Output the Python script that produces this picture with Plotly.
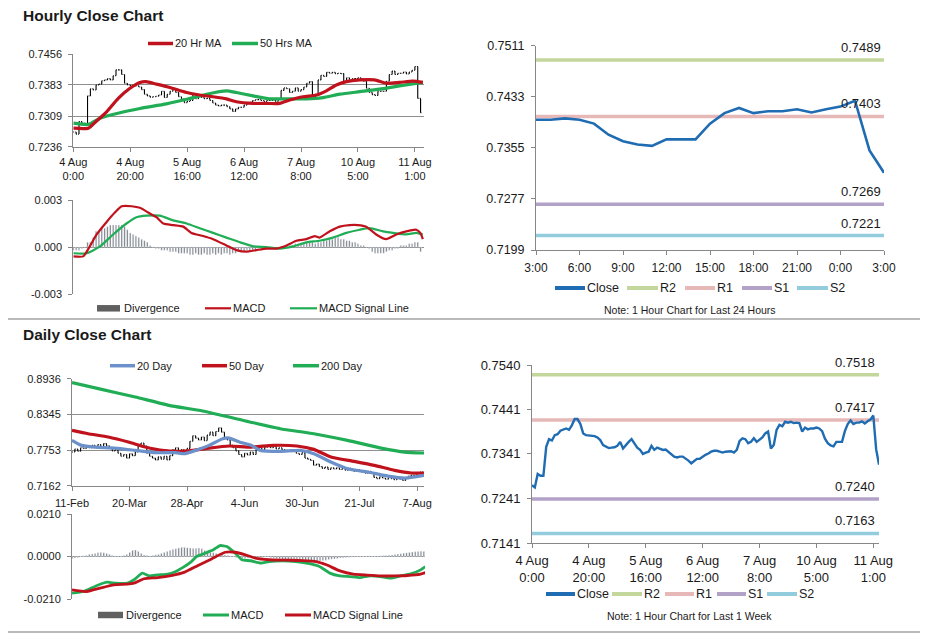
import plotly.graph_objects as go

W, H = 928, 638

# ------------------------------------------------------------------ data
hourly_tick_labels = ["4 Aug<br>0:00", "4 Aug<br>20:00", "5 Aug<br>16:00", "6 Aug<br>12:00",
                      "7 Aug<br>8:00", "10 Aug<br>5:00", "11 Aug<br>1:00"]
hourly_close = [
    0.7271, 0.7266, 0.7296, 0.7292, 0.7292, 0.7357, 0.7374, 0.7371, 0.7383, 0.7385,
    0.7393, 0.7395, 0.7398, 0.7395, 0.7405, 0.7419, 0.7419, 0.7408, 0.7387, 0.7383,
    0.7382, 0.7381, 0.7381, 0.7378, 0.7372, 0.7361, 0.7357, 0.7354, 0.7355, 0.7356,
    0.7359, 0.7368, 0.7353, 0.7361, 0.7368, 0.7374, 0.7365, 0.7355, 0.7350, 0.7341,
    0.7344, 0.7346, 0.7359, 0.7350, 0.7355, 0.7353, 0.7350, 0.7351, 0.7346, 0.7340,
    0.7335, 0.7333, 0.7335, 0.7335, 0.7331, 0.7326, 0.7320, 0.7326, 0.7330, 0.7330,
    0.7335, 0.7339, 0.7342, 0.7346, 0.7348, 0.7348, 0.7346, 0.7344, 0.7346, 0.7346,
    0.7347, 0.7344, 0.7350, 0.7370, 0.7376, 0.7374, 0.7365, 0.7368, 0.7376, 0.7368,
    0.7372, 0.7378, 0.7387, 0.7391, 0.7353, 0.7361, 0.7395, 0.7406, 0.7403, 0.7413,
    0.7411, 0.7413, 0.7410, 0.7411, 0.7410, 0.7391, 0.7400, 0.7396,
    0.7398, 0.7398, 0.7400, 0.7398, 0.7392, 0.7375, 0.7365, 0.7360, 0.7358, 0.7368,
    0.7368, 0.7368, 0.7392, 0.7408, 0.7416, 0.7408, 0.7411, 0.7411, 0.7414, 0.7409,
    0.7414, 0.7418, 0.7427, 0.7351, 0.7317]

ma20_x = [0, 5.3, 8, 11.7, 15.8, 19.9, 23.4, 25.5, 29.2, 33.9, 39.8, 44.4, 49.1, 53.8, 57.3,
          63.2, 67.8, 72.5, 76, 80.7, 85.4, 88.9, 92.4, 95.9, 100.6, 105.8, 110, 114.6, 119.3, 122.8]
ma20_y = [0.7280, 0.7280, 0.7296, 0.7319, 0.7351, 0.7375, 0.7389, 0.7391, 0.7385, 0.7377,
          0.7365, 0.7359, 0.7355, 0.7350, 0.7343, 0.7339, 0.7339, 0.7339, 0.7347, 0.7355,
          0.7359, 0.7369, 0.7383, 0.7391, 0.7395, 0.7395, 0.7387, 0.7389, 0.7392, 0.7389]
ma50_x = [0, 5.3, 9.4, 16.4, 23.4, 32.7, 39.8, 46.8, 53.8, 57.3, 63.2, 69, 74.9, 81.9, 87.7,
          93.6, 100.6, 107.6, 114.6, 122.8]
ma50_y = [0.7292, 0.7289, 0.7304, 0.7317, 0.7327, 0.7338, 0.7349, 0.7361, 0.7369, 0.7365,
          0.7357, 0.7350, 0.7350, 0.7350, 0.7353, 0.7361, 0.7367, 0.7373, 0.7381, 0.7389]

h_macd_x = [0, 3.5, 5.8, 8.2, 11.7, 14.6, 17, 20.5, 23.4, 26.3, 29.2, 31.6, 35.1, 38.6, 41.5,
            45.6, 49.1, 53.8, 57.3, 60.8, 64.3, 67.8, 71.3, 74.9, 78.4, 81.9, 84.8, 86.5, 90.1,
            93.6, 97.1, 100, 102.9, 106.4, 109.9, 113.5, 117, 120.5, 121.9, 122.8]
h_macd_y = [-0.0006, -0.0006, 0.00004, 0.0008, 0.0016, 0.0022, 0.0026, 0.0026, 0.0025, 0.0022,
            0.0019, 0.0015, 0.0014, 0.0013, 0.0009, 0.0007, 0.0005, 0.0001, -0.0002, -0.0003,
            -0.0002, -0.0001, -0.0001, 0.0001, 0.0004, 0.0005, 0.0007, 0.0006, 0.0010, 0.0013,
            0.0014, 0.0014, 0.0013, 0.0008, 0.0005, 0.0008, 0.0010, 0.0011, 0.0009, 0.0005]
h_sig_x = [0, 4.7, 9.4, 14, 18.7, 22.2, 25.7, 30.4, 35.1, 39.8, 44.4, 49.1, 53.8, 58.5, 63.2,
           67.8, 72.5, 77.2, 81.9, 86.5, 91.2, 95.9, 100.6, 104.1, 108.8, 112.3, 117, 120.5, 122.8]
h_sig_y = [-0.0004, -0.0004, 0.00004, 0.0008, 0.0015, 0.0019, 0.0020, 0.0020, 0.0017, 0.0015,
           0.0012, 0.0009, 0.0006, 0.0003, 0.00004, 0.0, -0.0001, 0.00004, 0.0003, 0.0004,
           0.0006, 0.0009, 0.0011, 0.0012, 0.0010, 0.0009, 0.0008, 0.0009, 0.0008]
h_div = [
    -0.0002, -0.0002, -0.0002, -0.0001, 0.0000,
    0.0003, 0.0003, 0.0006, 0.0010, 0.0010, 0.0012, 0.0012,
    0.0013, 0.0014, 0.0014, 0.0014, 0.0014, 0.0014, 0.0013,
    0.0011, 0.0009, 0.0008, 0.0007, 0.0006, 0.0005, 0.0004, 0.0003, 0.0001, 0.0000,
    -0.0001, -0.0001, -0.0002, -0.0002, -0.0002,
    -0.0003, -0.0003, -0.0003, -0.0004, -0.0004, -0.0004, -0.0004, -0.0005, -0.0005, -0.0004,
    -0.0005, -0.0005, -0.0004, -0.0005, -0.0005, -0.0004, -0.0005,
    -0.0004, -0.0005, -0.0004, -0.0004, -0.0005, -0.0004, -0.0004, -0.0003, -0.0003, -0.0003,
    -0.0002, -0.0002, -0.0002, -0.0002, -0.0001, -0.0001, -0.0001, -0.0001, -0.0001, 0.0000,
    0.0000, 0.0000, 0.0000, 0.0000,
    0.0001, 0.0001, 0.0001, 0.0002, 0.0002, 0.0002,
    0.0002, 0.0003, 0.0003, 0.0003, 0.0002, 0.0003, 0.0003, 0.0004,
    0.0004, 0.0005, 0.0005, 0.0006, 0.0006, 0.0005, 0.0005,
    0.0004, 0.0004, 0.0003, 0.0003, 0.0002, 0.0001, 0.0001, 0.0000, -0.0001,
    -0.0003, -0.0004, -0.0004, -0.0004, -0.0004, -0.0003,
    -0.0002, -0.0002, -0.0001, -0.0001,
    0.0001, 0.0001, 0.0001, 0.0002,
    0.0002, 0.0003, 0.0003, -0.0003]

last24_tick_labels = ["3:00", "6:00", "9:00", "12:00", "15:00", "18:00", "21:00", "0:00", "3:00"]
level_names = ["R2", "R1", "S1", "S2"]
levels_24h = [0.7489, 0.7403, 0.7269, 0.7221]
levels_week = [0.7518, 0.7417, 0.7240, 0.7163]

daily_tick_labels = ["11-Feb", "20-Mar", "28-Apr", "4-Jun", "30-Jun", "21-Jul", "7-Aug"]
daily_close = [
    0.7720, 0.7770, 0.7735, 0.7790,
    0.7780, 0.7815, 0.7790, 0.7830, 0.7800,
    0.7845, 0.7810, 0.7860, 0.7825, 0.7800,
    0.7740, 0.7760, 0.7700,
    0.7650, 0.7680, 0.7620,
    0.7690, 0.7660, 0.7720,
    0.7830, 0.7870, 0.7820,
    0.7700, 0.7650,
    0.7620, 0.7590, 0.7640, 0.7600,
    0.7650, 0.7590, 0.7660,
    0.7760, 0.7790, 0.7740,
    0.7760, 0.7720, 0.7780,
    0.7900, 0.7990, 0.7950,
    0.7920, 0.7970, 0.7910,
    0.8000, 0.8050, 0.7990,
    0.8060, 0.8120, 0.8050,
    0.7960, 0.7920,
    0.7830, 0.7790, 0.7740,
    0.7680, 0.7640, 0.7700,
    0.7670, 0.7720, 0.7680,
    0.7760, 0.7790, 0.7750,
    0.7800, 0.7820, 0.7790, 0.7810,
    0.7770, 0.7790, 0.7760,
    0.7750, 0.7730, 0.7760, 0.7740,
    0.7700, 0.7680, 0.7710,
    0.7620, 0.7600, 0.7580,
    0.7500, 0.7520, 0.7480,
    0.7450, 0.7470, 0.7430, 0.7460,
    0.7440, 0.7460, 0.7430, 0.7450, 0.7420, 0.7450,
    0.7420, 0.7400, 0.7430, 0.7410,
    0.7390, 0.7370, 0.7400, 0.7380,
    0.7300, 0.7280, 0.7310, 0.7290, 0.7270, 0.7300,
    0.7280, 0.7260, 0.7290, 0.7270, 0.7250, 0.7280,
    0.7320, 0.7340, 0.7320,
    0.7370, 0.7390, 0.7380]

d20_x = [0, 3.3, 8, 15, 22, 29, 36, 39, 43, 47.7, 52.4, 54.7, 58.2, 62.3, 65.4, 72.4, 79.4,
         84.1, 90, 95.8, 102.8, 109.8, 115.7, 122.5]
d20_y = [0.7914, 0.7831, 0.7803, 0.7786, 0.7748, 0.7709, 0.7709, 0.7692, 0.7748, 0.7831,
         0.7941, 0.7952, 0.7886, 0.7831, 0.7748, 0.7731, 0.7748, 0.7692, 0.7554, 0.7444,
         0.7389, 0.7322, 0.7289, 0.7335]
d50_x = [0, 5.6, 12.6, 19.6, 25.5, 31.3, 37.2, 41.9, 47.7, 54.7, 62.3, 70, 78.2, 84.1, 90,
         98.1, 105.1, 112.2, 118, 122.5]
d50_y = [0.8079, 0.8024, 0.7969, 0.7886, 0.7803, 0.7748, 0.7731, 0.7748, 0.7786, 0.7820,
         0.7803, 0.7831, 0.7820, 0.7764, 0.7637, 0.7565, 0.7499, 0.7416, 0.7372, 0.7372]
d200_x = [0, 10.3, 22, 33.7, 45.4, 61.5, 72.4, 84.1, 95.8, 107.5, 115.7, 122.5]
d200_y = [0.8870, 0.8759, 0.8632, 0.8494, 0.8400, 0.8223, 0.8107, 0.8024, 0.7913, 0.7786,
          0.7720, 0.7704]

d_macd_x = [0, 4, 8.7, 12.2, 15.1, 19.2, 21.5, 24.4, 26.8, 29.7, 33.2, 35.6, 38.5, 41.4, 43.2,
            46.1, 49, 51.3, 53.7, 56.6, 58.9, 61.9, 65.4, 68.3, 73, 77.7, 82.3, 85.8, 89.4,
            92.9, 96.4, 99.9, 103.4, 106.9, 110.4, 113.9, 117.4, 120.9, 122.5]
d_macd_y = [-0.0181, -0.0173, -0.0143, -0.0127, -0.0132, -0.0132, -0.0115, -0.0082, -0.0096,
            -0.0091, -0.0087, -0.0077, -0.0054, -0.0025, 0.0000, 0.0016, 0.0033, 0.0054, 0.0049,
            0.0016, -0.0016, -0.0021, -0.0033, -0.0025, -0.0021, -0.0025, -0.0035, -0.0049,
            -0.0082, -0.0096, -0.0099, -0.0104, -0.0096, -0.0099, -0.0107, -0.0096, -0.0086,
            -0.0066, -0.0050]
d_sig_x = [0, 5.1, 9.8, 14.5, 19.2, 21.5, 25, 29.7, 34.4, 39.1, 43.7, 48.4, 53.1, 56.6, 60.1,
           63.6, 68.3, 74.2, 80, 84.7, 88.2, 92.9, 97.5, 102.2, 106.9, 111.6, 116.3, 120.9, 122.5]
d_sig_y = [-0.0165, -0.0173, -0.0156, -0.0140, -0.0137, -0.0132, -0.0110, -0.0104, -0.0094,
           -0.0077, -0.0044, -0.0012, 0.0021, 0.0021, 0.0008, -0.0008, -0.0016, -0.0018,
           -0.0020, -0.0025, -0.0041, -0.0071, -0.0087, -0.0092, -0.0096, -0.0096, -0.0094,
           -0.0087, -0.0080]
d_div = [
    -0.0010, -0.0008, -0.0005,
    0.0000, 0.0003, 0.0005,
    0.0010, 0.0012, 0.0015, 0.0018, 0.0020, 0.0018, 0.0015, 0.0010,
    0.0005, 0.0003, 0.0002, 0.0003, 0.0005,
    0.0010, 0.0020, 0.0030, 0.0032, 0.0025,
    0.0015, 0.0008, 0.0005, 0.0003, 0.0005,
    0.0008, 0.0010, 0.0015, 0.0020, 0.0025, 0.0030, 0.0035,
    0.0038, 0.0042, 0.0045, 0.0045, 0.0043, 0.0042, 0.0040, 0.0040, 0.0042, 0.0038, 0.0030, 0.0025,
    0.0020, 0.0018, 0.0015, 0.0012, 0.0010, 0.0008, 0.0005, 0.0002, -0.0002,
    -0.0005, -0.0008, -0.0010, -0.0010, -0.0008, -0.0006, -0.0005, -0.0004, -0.0003, -0.0002,
    -0.0002, -0.0003, -0.0005,
    -0.0008, -0.0010, -0.0012, -0.0015, -0.0018, -0.0020, -0.0022, -0.0025, -0.0028, -0.0030,
    -0.0032, -0.0033, -0.0033, -0.0030, -0.0028, -0.0025, -0.0022, -0.0020, -0.0018, -0.0015,
    -0.0013, -0.0012, -0.0010, -0.0008, -0.0006, -0.0005,
    -0.0004, -0.0003, -0.0003, -0.0002, -0.0002, -0.0001, 0.0000, 0.0002, 0.0001, 0.0000,
    0.0002, 0.0003, 0.0004, 0.0005, 0.0006,
    0.0008, 0.0010, 0.0012, 0.0014, 0.0016, 0.0018, 0.0020, 0.0022, 0.0024, 0.0025, 0.0026, 0.0025]

h_price_ticks = ["0.7236", "0.7309", "0.7383", "0.7456"]
h_macd_ticks = ["-0.003", "0.000", "0.003"]
r24_ticks = ["0.7199", "0.7277", "0.7355", "0.7433", "0.7511"]
d_price_ticks = ["0.7162", "0.7753", "0.8345", "0.8936"]
d_macd_ticks = ["-0.0210", "0.0000", "0.0210"]
rweek_ticks = ["0.7141", "0.7241", "0.7341", "0.7441", "0.7540"]

# ------------------------------------------------------------------ styles
FONT = "Liberation Sans, Arial, sans-serif"
TXT = "#1a1a1a"
AX = "#878787"
GRID = "#8f8f8f"
RED = "#c0121c"
GREEN = "#21ad55"
BLUE20 = "#6c90c9"
CLOSE = "#1f6cb3"
GRAY = "#606060"
LEVEL_COLORS = ["#c3d69b", "#e6b9b8", "#b3a2c7", "#93cddd"]


def dx(l, r):
    return [l / W, r / W]


def dy(t, b):
    return [1 - b / H, 1 - t / H]


fig = go.Figure()

# ---- OHLC bars from the close series (open = previous close)
def ohlc_parts(c):
    o = [c[0]] + c[:-1]
    hi = [max(a, b) for a, b in zip(o, c)]
    lo = [min(a, b) for a, b in zip(o, c)]
    return o, hi, lo

hx = list(range(len(hourly_close)))
ho, hh, hl = ohlc_parts(hourly_close)
dxs = list(range(len(daily_close)))
do_, dh, dl = ohlc_parts(daily_close)

# Panel 1: hourly price
fig.add_trace(go.Ohlc(x=hx, open=ho, high=hh, low=hl, close=hourly_close,
                      increasing_line_color="black", decreasing_line_color="black",
                      line_width=1.1, tickwidth=0.3, xaxis="x", yaxis="y", hoverinfo="skip"))
fig.add_trace(go.Scatter(x=ma50_x, y=ma50_y, mode="lines", line=dict(color=GREEN, width=3.2, shape="spline", smoothing=0.6),
                         xaxis="x", yaxis="y", hoverinfo="skip"))
fig.add_trace(go.Scatter(x=ma20_x, y=ma20_y, mode="lines", line=dict(color=RED, width=3.2, shape="spline", smoothing=0.6),
                         xaxis="x", yaxis="y", hoverinfo="skip"))

# Panel 2: hourly MACD
fig.add_trace(go.Bar(x=hx, y=h_div, marker_color=GRAY, width=0.45, xaxis="x2", yaxis="y2", hoverinfo="skip"))
fig.add_trace(go.Scatter(x=h_sig_x, y=h_sig_y, mode="lines", line=dict(color=GREEN, width=2.2, shape="spline", smoothing=0.5),
                         xaxis="x2", yaxis="y2", hoverinfo="skip"))
fig.add_trace(go.Scatter(x=h_macd_x, y=h_macd_y, mode="lines", line=dict(color=RED, width=2.2, shape="spline", smoothing=0.5),
                         xaxis="x2", yaxis="y2", hoverinfo="skip"))

# Panel 3: last 24 hours
last24 = hourly_close[-25:]
x24 = list(range(len(last24)))
for name, val, col in zip(level_names, levels_24h, LEVEL_COLORS):
    fig.add_trace(go.Scatter(x=[x24[0], x24[-1]], y=[val, val], mode="lines", line=dict(color=col, width=3.5),
                             xaxis="x3", yaxis="y3", hoverinfo="skip"))
    fig.add_annotation(x=x24[-1], y=val, xref="x3", yref="y3", text=f"{val:.4f}", showarrow=False,
                       xanchor="right", yanchor="bottom", yshift=3, xshift=-1,
                       font=dict(size=13, color=TXT, family=FONT))
fig.add_trace(go.Scatter(x=x24, y=last24, mode="lines", line=dict(color=CLOSE, width=2.6),
                         xaxis="x3", yaxis="y3", hoverinfo="skip"))

# Panel 4: daily price
fig.add_trace(go.Ohlc(x=dxs, open=do_, high=dh, low=dl, close=daily_close,
                      increasing_line_color="black", decreasing_line_color="black",
                      line_width=1.1, tickwidth=0.3, xaxis="x4", yaxis="y4", hoverinfo="skip"))
fig.add_trace(go.Scatter(x=d200_x, y=d200_y, mode="lines", line=dict(color=GREEN, width=3.2, shape="spline", smoothing=0.5),
                         xaxis="x4", yaxis="y4", hoverinfo="skip"))
fig.add_trace(go.Scatter(x=d50_x, y=d50_y, mode="lines", line=dict(color=RED, width=3.2, shape="spline", smoothing=0.5),
                         xaxis="x4", yaxis="y4", hoverinfo="skip"))
fig.add_trace(go.Scatter(x=d20_x, y=d20_y, mode="lines", line=dict(color=BLUE20, width=3.2, shape="spline", smoothing=0.5),
                         xaxis="x4", yaxis="y4", hoverinfo="skip"))

# Panel 5: daily MACD
fig.add_trace(go.Bar(x=dxs, y=d_div, marker_color=GRAY, width=0.45, xaxis="x5", yaxis="y5", hoverinfo="skip"))
fig.add_trace(go.Scatter(x=d_macd_x, y=d_macd_y, mode="lines", line=dict(color=GREEN, width=2.8, shape="spline", smoothing=0.5),
                         xaxis="x5", yaxis="y5", hoverinfo="skip"))
fig.add_trace(go.Scatter(x=d_sig_x, y=d_sig_y, mode="lines", line=dict(color=RED, width=2.8, shape="spline", smoothing=0.5),
                         xaxis="x5", yaxis="y5", hoverinfo="skip"))

# Panel 6: last week
for name, val, col in zip(level_names, levels_week, LEVEL_COLORS):
    fig.add_trace(go.Scatter(x=[hx[0], hx[-1]], y=[val, val], mode="lines", line=dict(color=col, width=3.5),
                             xaxis="x6", yaxis="y6", hoverinfo="skip"))
    fig.add_annotation(x=hx[-1], y=val, xref="x6", yref="y6", text=f"{val:.4f}", showarrow=False,
                       xanchor="right", yanchor="bottom", yshift=3, xshift=-2,
                       font=dict(size=13, color=TXT, family=FONT))
fig.add_trace(go.Scatter(x=hx, y=hourly_close, mode="lines", line=dict(color=CLOSE, width=2.4),
                         xaxis="x6", yaxis="y6", hoverinfo="skip"))

fig.update_traces(showlegend=False)

# ------------------------------------------------------------------ axes
def xax(domain, anchor, rng, tickvals=None, ticktext=None, size=11, show=True, standoff=3):
    d = dict(domain=domain, anchor=anchor, range=rng, showgrid=False, zeroline=False, automargin=False,
             linecolor=AX, linewidth=1, tickcolor=AX, fixedrange=True,
             rangeslider=dict(visible=False), tickfont=dict(size=size, color=TXT, family=FONT))
    if show:
        d.update(showline=True, ticks="outside", ticklen=4, tickvals=tickvals, ticktext=ticktext,
                 ticklabelstandoff=standoff)
    else:
        d.update(showline=False, ticks="", showticklabels=False)
    return d


def yax(domain, anchor, rng, labels, size=11, grid=True):
    return dict(domain=domain, anchor=anchor, range=rng, tickvals=[float(t) for t in labels],
                ticktext=labels, showgrid=grid, gridcolor=GRID, gridwidth=1, zeroline=False,
                showline=True, linecolor=AX, linewidth=1, ticks="outside", ticklen=4, tickcolor=AX,
                ticklabelstandoff=4, fixedrange=True, automargin=False,
                tickfont=dict(size=size, color=TXT, family=FONT))


tick20 = [0, 20, 40, 60, 80, 100, 120]
layout = dict(
    width=W, height=H, margin=dict(l=0, r=0, t=0, b=0, autoexpand=False),
    paper_bgcolor="white", plot_bgcolor="white", showlegend=False,
    font=dict(family=FONT, color=TXT),
    xaxis=xax(dx(73.3, 424), "y", [0, 123.2], tick20, hourly_tick_labels, 11, standoff=1),
    yaxis=yax(dy(54.3, 146.7), "x", [0.7236, 0.7456], h_price_ticks, 11),
    xaxis2=xax(dx(73.3, 424), "y2", [0, 123.2], show=False),
    yaxis2=yax(dy(200, 294), "x2", [-0.003, 0.003], h_macd_ticks, 11),
    xaxis3=xax(dx(536, 884), "y3", [0, 24], [0, 3, 6, 9, 12, 15, 18, 21, 24], last24_tick_labels, 12),
    yaxis3=yax(dy(45.7, 250), "x3", [0.7199, 0.7511], r24_ticks, 12.5, grid=False),
    xaxis4=xax(dx(72, 424), "y4", [0, 122.4], tick20, daily_tick_labels, 11),
    yaxis4=yax(dy(378.7, 485.7), "x4", [0.7162, 0.8936], d_price_ticks, 11),
    xaxis5=xax(dx(72, 425), "y5", [0, 122.4], show=False),
    yaxis5=yax(dy(514, 599), "x5", [-0.021, 0.021], d_macd_ticks, 11),
    xaxis6=xax(dx(532, 879), "y6", [0, 122], tick20, hourly_tick_labels, 13, standoff=1),
    yaxis6=yax(dy(365, 543.3), "x6", [0.7141, 0.7540], rweek_ticks, 13, grid=False),
)
fig.update_layout(**layout)

# ------------------------------------------------------------------ titles, legends, separators
def ptext(x, y, text, size, anchor="left", bold=False):
    fig.add_annotation(x=x / W, y=1 - y / H, xref="paper", yref="paper", text=f"<b>{text}</b>" if bold else text,
                       showarrow=False, xanchor=anchor, yanchor="middle",
                       font=dict(size=size, color=TXT, family=FONT))


def pline(x0, x1, y, color, width):
    fig.add_shape(type="line", xref="paper", yref="paper", x0=x0 / W, x1=x1 / W, y0=1 - y / H, y1=1 - y / H,
                  line=dict(color=color, width=width))


def prect(x0, x1, y, h, color):
    fig.add_shape(type="rect", xref="paper", yref="paper", x0=x0 / W, x1=x1 / W,
                  y0=1 - (y + h / 2) / H, y1=1 - (y - h / 2) / H, line=dict(width=0), fillcolor=color)


ptext(21, 15.5, "Hourly Close Chart", 15.5, bold=True)
ptext(21, 334.5, "Daily Close Chart", 15.5, bold=True)

# panel 1 legend
pline(148, 173, 43.5, RED, 3.5); ptext(173, 43.5, "20 Hr MA", 11)
pline(232, 258, 43.5, GREEN, 3.5); ptext(258, 43.5, "50 Hrs MA", 11)
# panel 2 legend
prect(97, 120, 308.3, 6.5, GRAY); ptext(122, 308.3, "Divergence", 11)
pline(205, 231, 308.3, RED, 2.2); ptext(231, 308.3, "MACD", 11)
pline(290, 317, 308.3, GREEN, 2.2); ptext(317, 308.3, "MACD Signal Line", 11)
# panel 3 legend
leg3 = [(555, 585, CLOSE, "Close"), (627, 658, LEVEL_COLORS[0], "R2"), (685, 715, LEVEL_COLORS[1], "R1"),
        (742, 772, LEVEL_COLORS[2], "S1"), (797, 828, LEVEL_COLORS[3], "S2")]
for x0, x1, c, t in leg3:
    pline(x0, x1, 288, c, 4); ptext(x1, 288, t, 12.5)
ptext(690, 309.5, "Note: 1 Hour Chart for Last 24 Hours", 10.5, anchor="center")
# panel 4 legend
pline(110, 135, 365.7, BLUE20, 3.5); ptext(135, 365.7, "20 Day", 11)
pline(202, 227, 365.7, RED, 3.5); ptext(227, 365.7, "50 Day", 11)
pline(293, 319, 365.7, GREEN, 3.5); ptext(319, 365.7, "200 Day", 11)
# panel 5 legend
prect(98, 123, 615, 6.5, GRAY); ptext(124, 615, "Divergence", 11)
pline(203, 229, 615, GREEN, 3); ptext(229, 615, "MACD", 11)
pline(285, 311, 615, RED, 3); ptext(311, 615, "MACD Signal Line", 11)
# panel 6 legend
leg6 = [(546, 575, CLOSE, "Close"), (612, 642, LEVEL_COLORS[0], "R2"), (665, 694, LEVEL_COLORS[1], "R1"),
        (717, 746, LEVEL_COLORS[2], "S1"), (767, 797, LEVEL_COLORS[3], "S2")]
for x0, x1, c, t in leg6:
    pline(x0, x1, 594, c, 4); ptext(x1, 594, t, 12.5)
ptext(689, 615.5, "Note: 1 Hour Chart for Last 1 Week", 10.5, anchor="center")

# separators
pline(8, 920, 319, "#a3a3a3", 1.5)
pline(8, 920, 632, "#a3a3a3", 1.5)

fig.write_html("out.html")
